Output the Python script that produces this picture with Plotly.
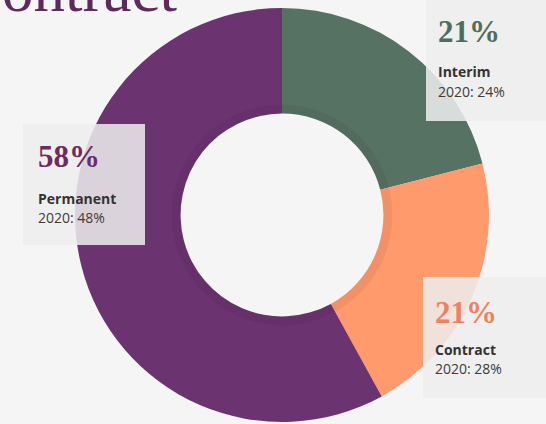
import plotly.graph_objects as go

# Contract type shares (current year) and the prior-year comparison
categories = ["Interim", "Contract", "Permanent"]
shares = [21, 21, 58]
prior_labels = ["2020: 24%", "2020: 28%", "2020: 48%"]
slice_colors = ["#557262", "#FF9A6D", "#6B3470"]
pct_colors = ["#4E6E5D", "#F0805E", "#6B2C63"]

W, H = 546, 424
cx, cy, R = 282, 215, 207          # donut centre / outer radius in pixels
hole = 0.49


def dom(r):
    """Pie domain (paper coords) for a circle of radius r centred at (cx, cy)."""
    return dict(x=[(cx - r) / W, (cx + r) / W],
                y=[(H - cy - r) / H, (H - cy + r) / H])


fig = go.Figure()

fig.add_trace(go.Pie(
    labels=categories, values=shares, sort=False, direction="clockwise",
    rotation=0, hole=hole, domain=dom(R),
    marker=dict(colors=slice_colors, line=dict(width=0)),
    textinfo="none", hoverinfo="label+percent", showlegend=False,
))

# subtle darker band around the hole for a bevelled look
r_in = R * hole
r_band = r_in + 9
fig.add_trace(go.Pie(
    values=[1], sort=False, hole=r_in / r_band, domain=dom(r_band),
    marker=dict(colors=["rgba(30,0,30,0.06)"], line=dict(width=0)),
    textinfo="none", hoverinfo="skip", showlegend=False,
))

# label panels
boxes = [
    (426, 0, 546, 121),    # Interim
    (423, 277, 546, 398),  # Contract
    (23, 124, 145, 245),   # Permanent
]
for (x0, y0, x1, y1) in boxes:
    fig.add_shape(type="rect", xref="paper", yref="paper",
                  x0=x0 / W, x1=x1 / W, y0=1 - y1 / H, y1=1 - y0 / H,
                  fillcolor="rgba(238,238,238,0.86)", line=dict(width=0),
                  layer="above")

# percent / name / prior-year text inside each panel
text_pos = [(436, 32, 72, 91), (433, 312, 349, 368), (36, 157, 198, 217)]
for i, (tx, yp, yn, yc) in enumerate(text_pos):
    fig.add_annotation(x=tx / W, y=1 - yp / H, xref="paper", yref="paper",
                       xanchor="left", yanchor="middle", showarrow=False,
                       text=f"<b>{shares[i]}%</b>",
                       font=dict(family="Liberation Serif", size=31, color=pct_colors[i]))
    fig.add_annotation(x=tx / W, y=1 - yn / H, xref="paper", yref="paper",
                       xanchor="left", yanchor="middle", showarrow=False,
                       text=f"<b>{categories[i]}</b>",
                       font=dict(family="Open Sans", size=14, color="#333333"))
    fig.add_annotation(x=tx / W, y=1 - yc / H, xref="paper", yref="paper",
                       xanchor="left", yanchor="middle", showarrow=False,
                       text=prior_labels[i],
                       font=dict(family="Open Sans", size=14, color="#3C3C3C"))

# heading running off the top-left corner
fig.add_annotation(x=-42 / W, y=1 + 10 / H, xref="paper", yref="paper",
                   xanchor="left", yanchor="middle", showarrow=False,
                   text="Contract",
                   font=dict(family="Liberation Serif", size=63, color="#5E2A5C"))

fig.update_layout(
    width=W, height=H, margin=dict(l=0, r=0, t=0, b=0),
    paper_bgcolor="#F5F5F5", plot_bgcolor="#F5F5F5",
)

fig.write_html("out.html")
